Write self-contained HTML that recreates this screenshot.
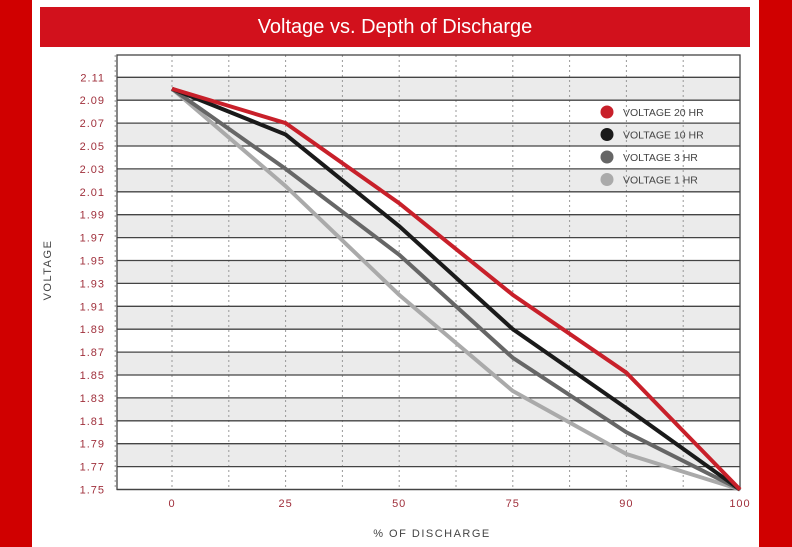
<!DOCTYPE html>
<html><head><meta charset="utf-8"><style>
html,body{margin:0;padding:0;background:#d00000;}
#wrap{position:relative;width:792px;height:547px;background:#d00000;overflow:hidden;font-family:"Liberation Sans",sans-serif;}
#panel{position:absolute;left:32px;top:0;width:727px;height:547px;background:#fff;}
#title{position:absolute;left:40px;top:7px;width:710px;height:40px;background:#d2111c;color:#fff;font-size:20px;line-height:40px;text-align:center;}
svg{position:absolute;left:0;top:0;}
</style></head><body>
<div id="wrap">
<div id="panel"></div>
<div id="title">Voltage vs. Depth of Discharge</div>
<svg id="chart" width="792" height="547"></svg>
</div>
<script>
const categories=["0","25","50","75","90","100"];
const yTicks=["1.75","1.77","1.79","1.81","1.83","1.85","1.87","1.89","1.91","1.93","1.95","1.97","1.99","2.01","2.03","2.05","2.07","2.09","2.11"];
const v20=[2.10,2.07,2.00,1.92,1.852,1.75];
const v10=[2.10,2.06,1.98,1.89,1.821,1.75];
const v3=[2.10,2.03,1.955,1.865,1.80,1.75];
const v1=[2.10,2.015,1.92,1.836,1.781,1.75];
const seriesNames=["VOLTAGE 20 HR","VOLTAGE 10 HR","VOLTAGE 3 HR","VOLTAGE 1 HR"];

const NS="http://www.w3.org/2000/svg";
const svg=document.getElementById('chart');
const L=117,R=740,T=55,B=489.5,X0=172,XSTEP=113.6;
const yMin=1.75,yMax=2.11,yTop=77.3;
function y(v){return B-(v-yMin)/(yMax-yMin)*(B-yTop);}
function x(i){return X0+i*XSTEP;}
function el(t,a){const e=document.createElementNS(NS,t);for(const k in a)e.setAttribute(k,a[k]);svg.appendChild(e);return e;}
// top band above 2.11
// stripes
for(let i=0;i<yTicks.length-1;i++){
  const v1_=parseFloat(yTicks[i]),v2_=parseFloat(yTicks[i+1]);
  const gray=(yTicks.length-2-i)%2===0;
  if(gray){const r=el('rect',{x:L,y:y(v2_),width:R-L,height:y(v1_)-y(v2_),fill:'#ebebeb'});
  
  }
}
// vertical dotted lines
for(let i=-0.5;i<=5;i+=0.5){
  if(i===5)continue;
  const ln=el('line',{x1:x(i),x2:x(i),y1:T,y2:B,stroke:'#999','stroke-width':1,'stroke-dasharray':'2,3'});
  
  
}
// horizontal lines and labels
yTicks.forEach(t=>{
  const v=parseFloat(t);
  const ln=el('line',{x1:L,x2:R,y1:y(v),y2:y(v),stroke:'#444','stroke-width':1.3});
  
  
  const tx=el('text',{x:105,y:y(v)+4,'text-anchor':'end','font-size':11,fill:'#a0303c','letter-spacing':'1'});
  tx.textContent=t;
  
  
});
// frame
const fr=el('rect',{x:L,y:T,width:R-L,height:B-T,fill:'none',stroke:'#444','stroke-width':1.3});


categories.forEach((c,i)=>{
  const tx=el('text',{x:x(i),y:507,'text-anchor':'middle','font-size':11,fill:'#a0303c','letter-spacing':'1'});
  tx.textContent=c;
  
  
});
const xt=el('text',{x:432,y:537,'text-anchor':'middle','font-size':11,fill:'#444','letter-spacing':'1.5'});
xt.textContent='% OF DISCHARGE';


const yt=el('text',{x:51,y:270,'text-anchor':'middle','font-size':11,fill:'#444','letter-spacing':'1.5',transform:'rotate(-90 51 270)'});
yt.textContent='VOLTAGE';


// series (draw light first)
const series=[[v1,'#aaaaaa','series-1hr'],[v3,'#666666','series-3hr'],[v10,'#1a1a1a','series-10hr'],[v20,'#c8202a','series-20hr']];
series.forEach(s=>{
  const p=el('polyline',{points:s[0].map((v,i)=>x(i)+','+y(v)).join(' '),fill:'none',stroke:s[1],'stroke-width':4,'stroke-linejoin':'miter'});
  
  
});
// legend
const lcol=['#c8202a','#1a1a1a','#666666','#aaaaaa'];
seriesNames.forEach((n,i)=>{
  const cy=112+i*22.5;
  const c=el('circle',{cx:607,cy:cy,r:6.5,fill:lcol[i]});
  
  
  const tx=el('text',{x:623,y:cy+4,'font-size':10.5,fill:'#444'});
  tx.textContent=n;
  
  
});
</script>
</body></html>
